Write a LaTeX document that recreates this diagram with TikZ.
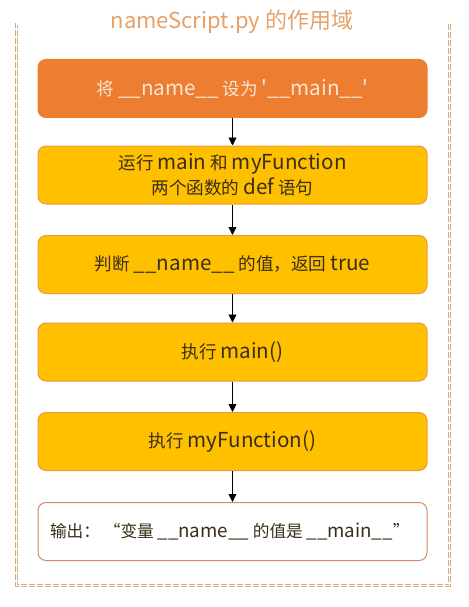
\documentclass[tikz,border=0pt]{standalone}
\usepackage{fontspec}
\setmainfont{Noto Sans CJK SC}
\newfontfamily\mainf{Noto Sans CJK SC}
\usetikzlibrary{arrows.meta}
\definecolor{boxorange}{HTML}{ED7D31}
\definecolor{boxyellow}{HTML}{FFC000}
\definecolor{yborder}{HTML}{EE9A3A}
\definecolor{wborder}{HTML}{D98A5E}
\definecolor{lighttext}{HTML}{FCE6D4}
\definecolor{darktext}{HTML}{3A2E18}
\definecolor{framecol}{HTML}{D6AA80}
\definecolor{titlecol}{HTML}{E5A26A}
\newcommand\lat[1]{{\fontsize{20.6}{25}\selectfont #1}}
\newcommand\latb[1]{{\fontsize{18.7}{25}\selectfont #1}}
\tikzset{
  stepbox/.style={rounded corners=8pt, minimum width=389pt, minimum height=58pt,
    inner sep=0pt, align=center, font=\mainf\fontsize{17.6}{25}\selectfont, line width=1pt},
  orangebox/.style={stepbox, fill=boxorange, draw=boxorange, text=lighttext},
  yellowbox/.style={stepbox, fill=boxyellow, draw=yborder, text=darktext},
  whitebox/.style={stepbox, fill=white, draw=wborder, text=darktext,
    font=\mainf\fontsize{16.7}{22}\selectfont},
  flow/.style={-{Triangle[width=8pt,length=8pt]}, line width=0.9pt, black},
  framestyle/.style={draw=framecol, line width=0.65pt, double=white, double distance=1.4pt,
    dash pattern=on 6pt off 2pt},
}
\begin{document}
\begin{tikzpicture}[x=1pt,y=-1pt]
\useasboundingbox[fill=white] (0,0) rectangle (468,607);
\draw[framestyle] (90,24) -- (16.2,24) -- (16.2,585.5) -- (449.7,585.5) -- (449.7,24) -- (372,24);
\node[text=titlecol, font=\mainf\fontsize{22}{26}\selectfont] (title) at (232,22) {nameScript.py 的作用域};
\node[orangebox] (b1) at (232.5,88.5) {将 \lat{\_\_name\_\_} 设为 \lat{'\_\_main\_\_'}};
\node[yellowbox] (b2) at (232.5,175) {运行 \lat{main} 和 \lat{myFunction}\\两个函数的 \lat{def} 语句};
\node[yellowbox] (b3) at (232.5,264.5) {判断 \lat{\_\_name\_\_} 的值，返回 \lat{true}};
\node[yellowbox] (b4) at (232.5,352) {执行 \lat{main()}};
\node[yellowbox] (b5) at (232.5,441.5) {执行 \lat{myFunction()}};
\node[whitebox] (b6) at (232.5,531.5) {\makebox[365pt][l]{输出： “变量 \latb{\_\_name\_\_} 的值是 \latb{\_\_main\_\_}”}};
\draw[flow] (b1) -- (b2);
\draw[flow] (b2) -- (b3);
\draw[flow] (b3) -- (b4);
\draw[flow] (b4) -- (b5);
\draw[flow] (b5) -- (b6);
\end{tikzpicture}
\end{document}
